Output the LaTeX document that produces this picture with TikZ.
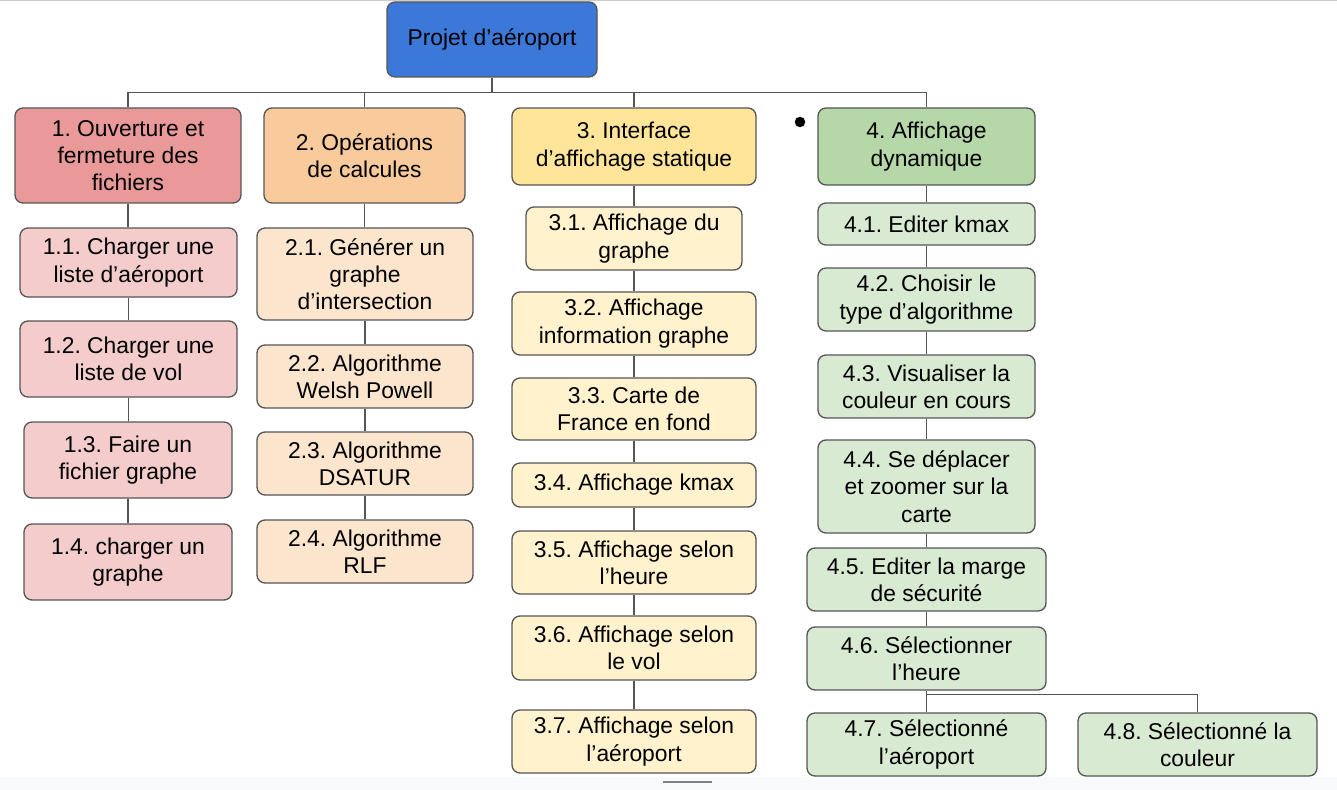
\documentclass[tikz,border=0pt]{standalone}
\usepackage{fontspec}
\setmainfont{Liberation Sans}
\usepackage{xcolor}
\usepackage{tikz}
\frenchspacing

% Couleurs des branches
\definecolor{racineBleu}{HTML}{3C78D8}
\definecolor{rougeFort}{HTML}{EA9999}
\definecolor{rougeClair}{HTML}{F4CCCC}
\definecolor{orangeFort}{HTML}{F9CB9C}
\definecolor{orangeClair}{HTML}{FCE5CD}
\definecolor{jauneFort}{HTML}{FFE599}
\definecolor{jauneClair}{HTML}{FFF2CC}
\definecolor{vertFort}{HTML}{B6D7A8}
\definecolor{vertClair}{HTML}{D9EAD3}
\definecolor{bordure}{HTML}{555555}
\definecolor{fondBas}{HTML}{F8F9FA}

\begin{document}
\begin{tikzpicture}[x=0.02cm, y=-0.02cm,
	tache/.style 2 args={draw=bordure, line width=0.75pt, rounded corners=0.16cm,
		align=center, inner sep=0pt, font=\fontsize{13}{15.5}\selectfont,
		minimum width=#1*0.02cm, minimum height=#2*0.02cm},
	lien/.style={draw=bordure, line width=0.6pt}]
		\useasboundingbox (0,0) rectangle (1337,790);
		
		% --- Cadre de la capture ---
		\draw[gray!40, line width=0.8pt] (0,0.5) -- (1337,0.5);
		\fill[fondBas] (0,777) rectangle (1337,790);
		\draw[gray, line width=1.2pt] (663,782) -- (712,782);
		
		% --- Racine ---
		\node[tache={210}{75}, fill=racineBleu] (racine) at (492,39.5) {Projet d’aéroport};
		
		% --- Niveau 1 ---
		\node[tache={226}{95}, fill=rougeFort] (p1) at (128,155.5) {1. Ouverture et\\fermeture des\\fichiers};
		\node[tache={201}{95}, fill=orangeFort] (p2) at (364.5,155.5) {2. Opérations\\de calcules};
		\node[tache={244}{77}, fill=jauneFort] (p3) at (634,146.5) {3. Interface\\d’affichage statique};
		\node[tache={217}{77}, fill=vertFort] (p4) at (926.5,146.5) {4. Affichage\\dynamique};
		\fill (800,122) circle (0.105cm); % point isole
		
		% --- Branche 1 ---
		\node[tache={217}{69}, fill=rougeClair] (p11) at (128.5,262.5) {1.1. Charger une\\liste d’aéroport};
		\node[tache={217}{76}, fill=rougeClair] (p12) at (128.5,359) {1.2. Charger une\\liste de vol};
		\node[tache={208}{76}, fill=rougeClair] (p13) at (128,460) {1.3. Faire un\\fichier graphe};
		\node[tache={208}{76}, fill=rougeClair] (p14) at (128,562) {1.4. charger un\\graphe};
		
		% --- Branche 2 ---
		\node[tache={216}{92}, fill=orangeClair] (p21) at (365,274) {2.1. Générer un\\graphe\\d’intersection};
		\node[tache={216}{63}, fill=orangeClair] (p22) at (365,376.5) {2.2. Algorithme\\Welsh Powell};
		\node[tache={216}{63}, fill=orangeClair] (p23) at (365,463.5) {2.3. Algorithme\\DSATUR};
		\node[tache={216}{63}, fill=orangeClair] (p24) at (365,551.5) {2.4. Algorithme\\RLF};
		
		% --- Branche 3 ---
		\node[tache={216}{63}, fill=jauneClair] (p31) at (634,238.5) {3.1. Affichage du\\graphe};
		\node[tache={244}{63}, fill=jauneClair] (p32) at (634,323.5) {3.2. Affichage\\information graphe};
		\node[tache={244}{62}, fill=jauneClair] (p33) at (634,409) {3.3. Carte de\\France en fond};
		\node[tache={244}{44}, fill=jauneClair] (p34) at (634,485) {3.4. Affichage kmax};
		\node[tache={244}{63}, fill=jauneClair] (p35) at (634,562.5) {3.5. Affichage selon\\l’heure};
		\node[tache={244}{64}, fill=jauneClair] (p36) at (634,648) {3.6. Affichage selon\\le vol};
		\node[tache={244}{63}, fill=jauneClair] (p37) at (634,741.5) {3.7. Affichage selon\\l’aéroport};
		
		% --- Branche 4 ---
		\node[tache={217}{42}, fill=vertClair] (p41) at (926.5,224) {4.1. Editer kmax};
		\node[tache={217}{63}, fill=vertClair] (p42) at (926.5,299.5) {4.2. Choisir le\\type d’algorithme};
		\node[tache={217}{63}, fill=vertClair] (p43) at (926.5,386.5) {4.3. Visualiser la\\couleur en cours};
		\node[tache={217}{93}, fill=vertClair] (p44) at (926.5,486.5) {4.4. Se déplacer\\et zoomer sur la\\carte};
		\node[tache={239}{63}, fill=vertClair] (p45) at (926.5,579.5) {4.5. Editer la marge\\de sécurité};
		\node[tache={239}{63}, fill=vertClair] (p46) at (926.5,658.5) {4.6. Sélectionner\\l’heure};
		\node[tache={239}{63}, fill=vertClair] (p47) at (926.5,744.5) {4.7. Sélectionné\\l’aéroport};
		\node[tache={239}{63}, fill=vertClair] (p48) at (1197.5,744.5) {4.8. Sélectionné la\\couleur};
		
		% --- Liens ---
		\draw[lien] (racine.south) -- ++(0,15) coordinate (bus);
		\foreach \p in {p1,p2,p3,p4}
			\draw[lien] (bus) -| (\p.north);
		\foreach \a/\b in {p1/p11, p11/p12, p12/p13, p13/p14,
			p2/p21, p21/p22, p22/p23, p23/p24,
			p3/p31, p31/p32, p32/p33, p33/p34, p34/p35, p35/p36, p36/p37,
			p4/p41, p41/p42, p42/p43, p43/p44, p44/p45, p45/p46, p46/p47}
			\draw[lien] (\a.south) -- (\a.south |- \b.north);
		\draw[lien] (p46.south) -- ++(0,4) -| (p48.north);
	\end{tikzpicture}
\end{document}
